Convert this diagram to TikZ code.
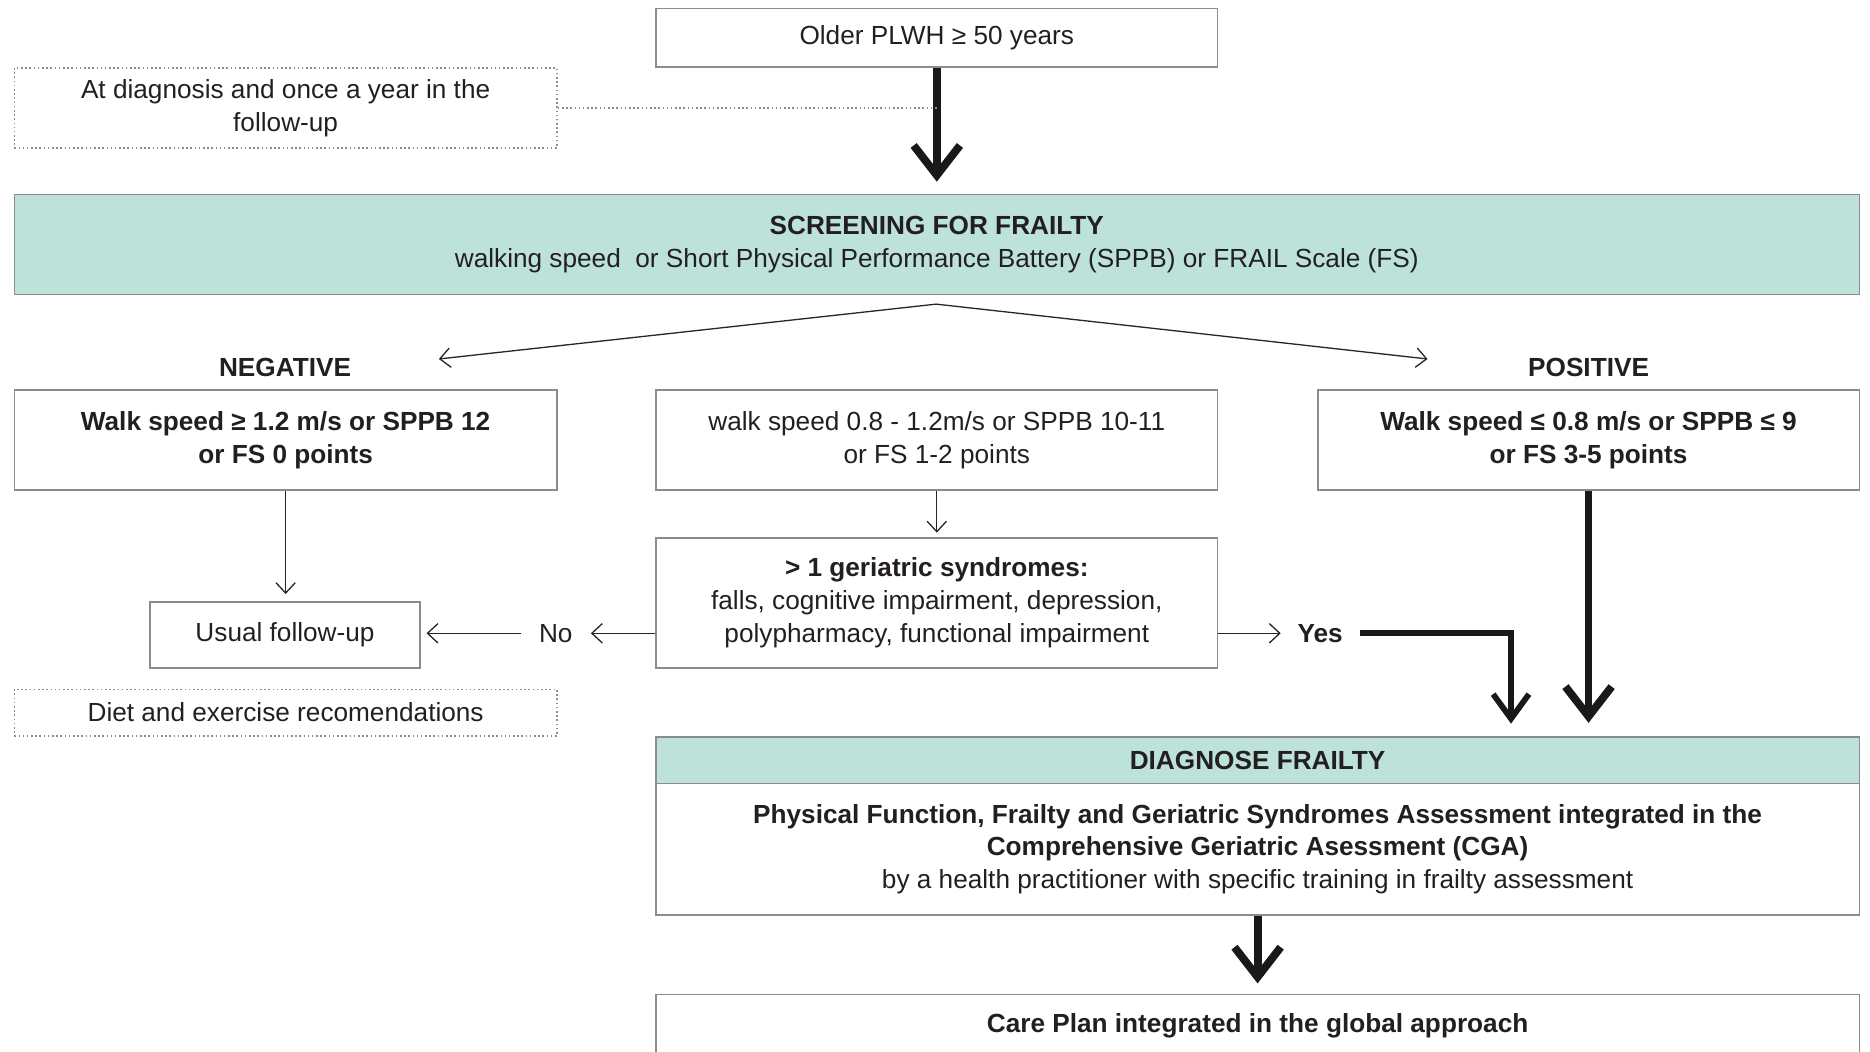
\documentclass[tikz,border=0pt]{standalone}
\usepackage{fontspec}
\setmainfont{Liberation Sans}
\usetikzlibrary{arrows.meta}
\definecolor{frailteal}{RGB}{188,226,218}
\definecolor{inkgray}{RGB}{35,31,32}
\newcommand{\pxu}{0.16mm}
\tikzset{
  wh/.style 2 args={minimum width=#1*\pxu, minimum height=#2*\pxu},
  box/.style={draw=black!45, line width=0.6pt, text=inkgray, align=center, inner sep=0pt},
  notebox/.style={draw=black!45, densely dotted, line width=0.6pt, text=inkgray, align=center, inner sep=0pt},
  thinarr/.style={-{Straight Barb[length=1.4mm,width=2.6mm]}, line width=0.5pt, draw=black!85},
  fatarr/.style={-{Straight Barb[length=4mm,width=6.2mm]}, line width=3pt, draw=black!90},
  midarr/.style={-{Straight Barb[length=3.3mm,width=4.8mm]}, line width=2.2pt, draw=black!90},
}
\begin{document}
\fontsize{10}{12.5}\selectfont
\begin{tikzpicture}[x=\pxu, y=-\pxu]
\clip (0,0) rectangle (1568,882);
\node[box, wh={471}{49}] (top) at (785.5,31.5) {Older PLWH ≥ 50 years};
\node[notebox, wh={455}{67}] (note1) at (239.5,90.5) {At diagnosis and once a year in the\\follow-up};
\node[box, fill=frailteal, wh={1547}{84}] (screen) at (785.5,205) {\textbf{SCREENING FOR FRAILTY}\\walking speed\ \ or Short Physical Performance Battery (SPPB) or FRAIL Scale (FS)};
\node[font=\bfseries, text=inkgray] (negl) at (239,308) {NEGATIVE};
\node[font=\bfseries, text=inkgray] (posl) at (1332,308) {POSITIVE};
\node[box, font=\bfseries, wh={455}{84}] (neg) at (239.5,369) {Walk speed ≥ 1.2 m/s or SPPB 12\\or FS 0 points};
\node[box, wh={471}{84}] (mid) at (785.5,369) {walk speed 0.8 - 1.2m/s or SPPB 10-11\\or FS 1-2 points};
\node[box, font=\bfseries, wh={454}{84}] (pos) at (1332,369) {Walk speed ≤ 0.8 m/s or SPPB ≤ 9\\or FS 3-5 points};
\node[box, wh={471}{109}] (geri) at (785.5,505.5) {\textbf{> 1 geriatric syndromes:}\\falls, cognitive impairment, depression,\\polypharmacy, functional impairment};
\node[box, wh={226}{55}] (usual) at (239,532.5) {Usual follow-up};
\node[notebox, wh={455}{39}] (note2) at (239.5,597.5) {Diet and exercise recomendations};
\node[text=inkgray, inner xsep=2.4mm] (no) at (466,531) {No};
\node[font=\bfseries, text=inkgray, inner xsep=2.2mm] (yes) at (1107,531) {Yes};
\node[box, fill=frailteal, font=\bfseries, wh={1009}{39}] (diaghead) at (1054.5,637.5) {DIAGNOSE FRAILTY};
\node[box, wh={1009}{110}] (diagbody) at (1054.5,712) {\textbf{Physical Function, Frailty and Geriatric Syndromes Assessment integrated in the}\\\textbf{Comprehensive Geriatric Asessment (CGA)}\\by a health practitioner with specific training in frailty assessment};
\node[box, font=\bfseries, wh={1009}{52}] (care) at (1054.5,860) {Care Plan integrated in the global approach};
\coordinate (fork) at (785,255);
\coordinate (negtip) at (368,301);
\coordinate (postip) at (1197,301);
\coordinate (yesdrop) at (1267,618);
\draw[fatarr, shorten >=1.6mm] (top) -- (screen);
\draw[densely dotted, draw=black!45, line width=0.6pt] (note1.east) -- (note1.east -| top.south);
\draw[thinarr] (fork) -- (negtip);
\draw[thinarr] (fork) -- (postip);
\draw[thinarr, shorten >=1mm] (neg.south) -- (neg.south |- usual.north);
\draw[thinarr, shorten >=0.6mm] (mid) -- (geri);
\draw[thinarr] (geri.west |- no) -- (no.east);
\draw[thinarr, shorten >=0.8mm] (no.west) -- (no.west -| usual.east);
\draw[thinarr] (geri.east |- yes) -- (yes.west);
\draw[midarr, shorten >=1.8mm] (yes.east) -| (yesdrop);
\draw[fatarr, shorten >=1.8mm] (pos.south) -- (pos.south |- diaghead.north);
\draw[fatarr, shorten >=1.4mm] (diagbody) -- (care);
\end{tikzpicture}
\end{document}
